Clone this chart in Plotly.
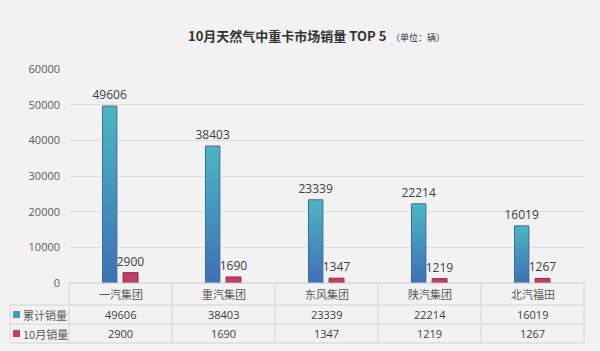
import plotly.graph_objects as go

categories = ["一汽集团", "重汽集团", "东风集团", "陕汽集团", "北汽福田"]
cumulative = [49606, 38403, 23339, 22214, 16019]
october = [2900, 1690, 1347, 1219, 1267]
series_names = ["累计销量", "10月销量"]
y_ticks = [0, 10000, 20000, 30000, 40000, 50000, 60000]

W, H = 600, 351
ML, MR, MT, MB = 69, 16, 69, 68
PH = H - MT - MB
PW = W - ML - MR


def py(p):
    return (H - MB - p) / PH


def px(p):
    return (p - ML) / PW


fig = go.Figure()

# gradient bars (teal top -> blue bottom): overlapping layers, tallest first
N = 30
top_c = (76, 183, 193)
bot_c = (63, 112, 182)
idx = list(range(len(categories)))
for j in range(N, 0, -1):
    t = (j - 0.5) / N
    c = tuple(int(bot_c[k] + (top_c[k] - bot_c[k]) * t) for k in range(3))
    fig.add_trace(go.Bar(
        x=idx, y=[v * j / N for v in cumulative],
        width=0.14, offset=-0.175, marker=dict(color="rgb(%d,%d,%d)" % c, line=dict(width=0)),
        showlegend=False, hoverinfo="skip"))

fig.add_trace(go.Bar(
    x=idx, y=cumulative, width=0.14, offset=-0.175, name=series_names[0],
    marker=dict(color="rgba(0,0,0,0)", line=dict(color="#3d6f9e", width=1)),
    text=[str(v) for v in cumulative], textposition="outside", constraintext="none",
    textfont=dict(size=12, color="#404040", family="Open Sans"), cliponaxis=False, showlegend=False))

fig.add_trace(go.Bar(
    x=idx, y=october, width=0.145, offset=0.025, name=series_names[1],
    marker=dict(color="#c43d63", line=dict(color="#8e2b47", width=1)),
    text=[str(v) for v in october], textposition="outside", constraintext="none",
    textfont=dict(size=12, color="#404040", family="Open Sans"), cliponaxis=False, showlegend=False))

shapes = []
annos = []
lc = "#d4d4d4"
y0, y1, y2, y3 = 283, 305, 324, 343
shapes.append(dict(type="line", xref="paper", yref="paper", x0=0, x1=1, y0=py(y0), y1=py(y0), line=dict(color="#c8c8c8", width=1)))
for yy in (y1, y2, y3):
    shapes.append(dict(type="line", xref="paper", yref="paper", x0=px(10), x1=1, y0=py(yy), y1=py(yy), line=dict(color=lc, width=1)))
shapes.append(dict(type="line", xref="paper", yref="paper", x0=px(10), x1=px(10), y0=py(y1), y1=py(y3), line=dict(color=lc, width=1)))
for k in range(len(categories) + 1):
    xx = k / len(categories)
    shapes.append(dict(type="line", xref="paper", yref="paper", x0=xx, x1=xx, y0=py(y0), y1=py(y3), line=dict(color=lc, width=1)))
shapes.append(dict(type="rect", xref="paper", yref="paper", x0=px(13), x1=px(20), y0=py(311), y1=py(318), fillcolor="#3f9dbb", line=dict(width=0)))
shapes.append(dict(type="rect", xref="paper", yref="paper", x0=px(13), x1=px(20), y0=py(330), y1=py(337), fillcolor="#c43d63", line=dict(width=0)))

txtc = "#595959"
common = dict(showarrow=False, yanchor="middle")
annos.append(dict(xref="paper", yref="paper", x=px(21), y=py((y1 + y2) / 2), text=series_names[0], xanchor="left", font=dict(size=11, color=txtc, family="Noto Sans CJK SC"), **common))
annos.append(dict(xref="paper", yref="paper", x=px(21), y=py((y2 + y3) / 2), text=series_names[1], xanchor="left", font=dict(size=11, color=txtc, family="Noto Sans CJK SC"), **common))
for k, cat in enumerate(categories):
    annos.append(dict(xref="x", yref="paper", x=k, y=py((y0 + y1) / 2), text=cat, xanchor="center", font=dict(size=11, color=txtc, family="Noto Sans CJK SC"), **common))
    annos.append(dict(xref="x", yref="paper", x=k, y=py((y1 + y2) / 2), text=str(cumulative[k]), xanchor="center", font=dict(size=11, color="#404040", family="Open Sans"), **common))
    annos.append(dict(xref="x", yref="paper", x=k, y=py((y2 + y3) / 2), text=str(october[k]), xanchor="center", font=dict(size=11, color="#404040", family="Open Sans"), **common))

annos.append(dict(xref="paper", yref="paper", x=px(186), y=py(36), text="<b>10月天然气中重卡市场销量 TOP 5</b>", xanchor="left", font=dict(size=13, color="#333333", family="Noto Sans CJK SC"), **common))
annos.append(dict(xref="paper", yref="paper", x=px(389), y=py(37), text="（单位：辆）", xanchor="left", font=dict(size=9, color="#333333", family="Noto Sans CJK SC"), **common))

fig.update_layout(
    width=W, height=H, margin=dict(l=ML, r=MR, t=MT, b=MB, pad=0),
    paper_bgcolor="#f2f2f2", plot_bgcolor="#f2f2f2",
    barmode="overlay", showlegend=False,
    shapes=shapes, annotations=annos,
    xaxis=dict(range=[-0.5, len(categories) - 0.5], showticklabels=False, showgrid=False, zeroline=False, fixedrange=True),
    yaxis=dict(range=[0, 60000], tickvals=y_ticks, ticktext=[str(v) for v in y_ticks],
               showgrid=True, gridcolor="#dcdcdc", gridwidth=1, zeroline=False,
               tickfont=dict(size=11, color=txtc, family="Open Sans"), ticks="", ticklabelstandoff=8),
    font=dict(family="Open Sans"),
)

fig.write_html("out.html")
